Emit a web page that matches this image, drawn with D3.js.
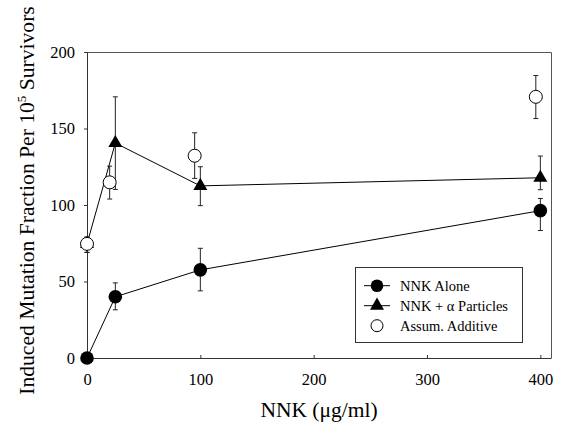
<!DOCTYPE html>
<html>
<head>
<meta charset="utf-8">
<script src="https://cdn.jsdelivr.net/npm/d3@7"></script>
<style>
  body { margin: 0; background: #fff; }
  text { font-family: "Liberation Serif", "Times New Roman", serif; fill: #000; }
</style>
</head>
<body>
<div id="chart"></div>
<script>
// Data
var xTicks = [0, 100, 200, 300, 400];
var yTicks = [0, 50, 100, 150, 200];

// NNK alone
var aloneX = [0, 25, 100, 400];
var aloneY = [0, 40, 57.6, 96.3];
var aloneLo = [0, 31.5, 43.9, 83.3];
var aloneHi = [0, 49.1, 71.7, 104.3];

// NNK + alpha particles
var alphaX = [0, 25, 100, 400];
var alphaY = [74.6, 140.5, 112.5, 117.8];
var alphaLo = [69, 110.2, 99.6, 110];
var alphaHi = [79, 170.7, 125, 132];

// Assumed additive
var addX = [0, 20, 95, 396];
var addY = [74.6, 114.8, 132.2, 170.7];
var addLo = [69, 103.9, 117.4, 156.5];
var addHi = [79, 125.4, 147.2, 184.6];

var legendLabels = ["NNK Alone", "NNK + \u03b1 Particles", "Assum. Additive"];

function zip(xs, ys, lo, hi) {
  return xs.map(function(x, i) {
    return { x: x, y: ys[i], lo: lo[i], hi: hi[i] };
  });
}
var alone = zip(aloneX, aloneY, aloneLo, aloneHi);
var alpha = zip(alphaX, alphaY, alphaLo, alphaHi);
var additive = zip(addX, addY, addLo, addHi);

// Canvas
var width = 563;
var height = 427;
var plotL = 87, plotR = 551, plotT = 52, plotB = 358;

var svg = d3.select("#chart").append("svg")
  .attr("width", width)
  .attr("height", height);

var xScale = d3.scaleLinear().domain([0, 409.4]).range([plotL, plotR]);
var yScale = d3.scaleLinear().domain([0, 200]).range([plotB, plotT]);

// frame (top and right)
svg.append("path")
  .attr("d", "M" + plotL + "," + (plotT + 0.5) + "H" + (plotR + 0.5) + "V" + plotB)
  .attr("fill", "none")
  .attr("stroke", "#555")
  .attr("stroke-width", 1);

// bottom ticks point inward, left ticks outward
var xAxis = d3.axisBottom(xScale).tickValues(xTicks)
  .tickSizeInner(-3).tickSizeOuter(0).tickPadding(15.5);
var yAxis = d3.axisLeft(yScale).tickValues(yTicks)
  .tickSizeInner(3).tickSizeOuter(0).tickPadding(9);

var gx = svg.append("g")
  .attr("transform", "translate(0," + plotB + ")")
  .call(xAxis);
var gy = svg.append("g")
  .attr("transform", "translate(" + plotL + ",0)")
  .call(yAxis);

[gx, gy].forEach(function(g) {
  g.selectAll("text")
    .attr("font-family", "Liberation Serif")
    .attr("font-size", 16.5)
    .attr("fill", "#000");
  g.selectAll("line, path").attr("stroke", "#333");
});

// axis titles
svg.append("text")
  .attr("x", (plotL + plotR) / 2)
  .attr("y", 417)
  .attr("text-anchor", "middle")
  .attr("font-size", 21.5)
  .text("NNK (\u03bcg/ml)");

var yTitle = svg.append("text")
  .attr("transform", "translate(34," + 200.5 + ")rotate(-90)")
  .attr("text-anchor", "middle")
  .attr("font-size", 21.6);
yTitle.append("tspan").text("Induced Mutation Fraction Per 10");
yTitle.append("tspan").attr("dy", -8).attr("font-size", 13).text("5");
yTitle.append("tspan").attr("dy", 8).text(" Survivors");

// lines
var line = d3.line()
  .x(function(d) { return xScale(d.x); })
  .y(function(d) { return yScale(d.y); });

[alone, alpha].forEach(function(s) {
  svg.append("path")
    .datum(s)
    .attr("d", line)
    .attr("fill", "none")
    .attr("stroke", "#000")
    .attr("stroke-width", 1);
});

// error bars
function errorBars(s) {
  var g = svg.append("g").attr("stroke", "#222").attr("stroke-width", 1);
  s.forEach(function(d) {
    if (d.hi === d.lo) return;
    var cx = xScale(d.x);
    g.append("line")
      .attr("x1", cx).attr("x2", cx)
      .attr("y1", yScale(d.lo)).attr("y2", yScale(d.hi));
    [d.lo, d.hi].forEach(function(v) {
      g.append("line")
        .attr("x1", cx - 2.5).attr("x2", cx + 2.5)
        .attr("y1", yScale(v)).attr("y2", yScale(v));
    });
  });
}
errorBars(alone);
errorBars(alpha);
errorBars(additive);

// markers
var tri = d3.symbol().type(d3.symbolTriangle).size(85);

svg.selectAll(".tri").data(alpha).enter()
  .append("path")
  .attr("class", "tri")
  .attr("d", tri)
  .attr("transform", function(d) {
    return "translate(" + xScale(d.x) + "," + yScale(d.y) + ")";
  })
  .attr("fill", "#000");

svg.selectAll(".dot").data(alone).enter()
  .append("circle")
  .attr("class", "dot")
  .attr("cx", function(d) { return xScale(d.x); })
  .attr("cy", function(d) { return yScale(d.y); })
  .attr("r", 6.8)
  .attr("fill", "#000");

svg.selectAll(".open").data(additive).enter()
  .append("circle")
  .attr("class", "open")
  .attr("cx", function(d) { return xScale(d.x); })
  .attr("cy", function(d) { return yScale(d.y); })
  .attr("r", 6.5)
  .attr("fill", "#fff")
  .attr("stroke", "#000")
  .attr("stroke-width", 1);

// legend
var lg = svg.append("g");
lg.append("rect")
  .attr("x", 355.5).attr("y", 267.5)
  .attr("width", 167).attr("height", 75)
  .attr("fill", "#fff")
  .attr("stroke", "#333");

var rows = [285.7, 305.7, 325.7];
var mx = 377;

lg.append("line").attr("x1", 364).attr("x2", 390)
  .attr("y1", rows[0]).attr("y2", rows[0]).attr("stroke", "#000");
lg.append("circle").attr("cx", mx).attr("cy", rows[0]).attr("r", 6.3).attr("fill", "#000");

lg.append("line").attr("x1", 364).attr("x2", 390)
  .attr("y1", rows[1]).attr("y2", rows[1]).attr("stroke", "#000");
lg.append("path").attr("d", tri)
  .attr("transform", "translate(" + mx + "," + rows[1] + ")")
  .attr("fill", "#000");

lg.append("circle").attr("cx", mx).attr("cy", rows[2]).attr("r", 6)
  .attr("fill", "#fff").attr("stroke", "#000");

legendLabels.forEach(function(t, i) {
  lg.append("text")
    .attr("x", 400)
    .attr("y", rows[i])
    .attr("dy", "0.35em")
    .attr("font-size", 14.5)
    .text(t);
});
</script>
</body>
</html>
